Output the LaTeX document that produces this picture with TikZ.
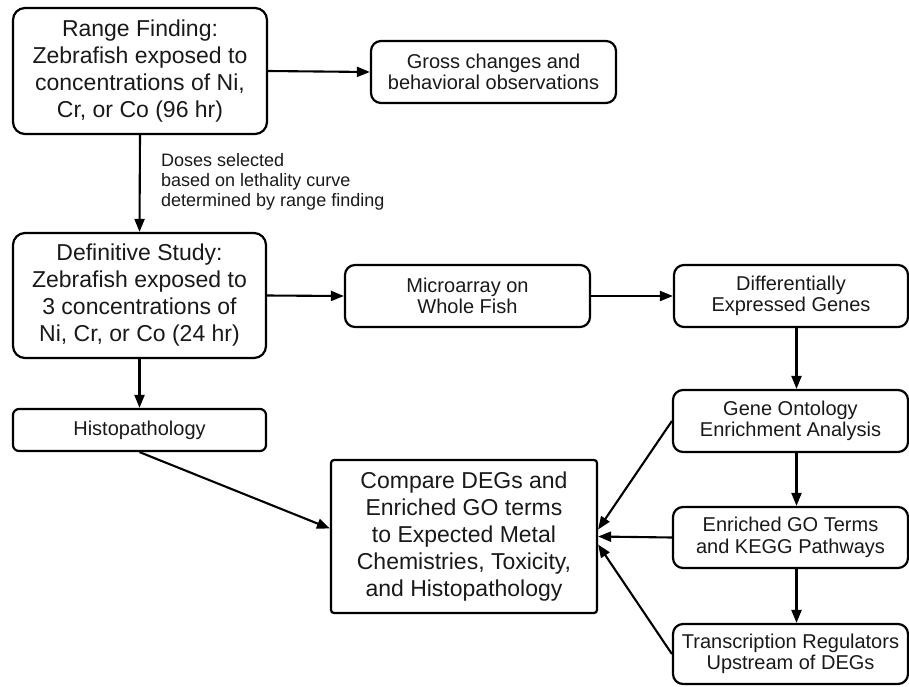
\documentclass[tikz,border=0pt]{standalone}
\usepackage{fontspec}
\setmainfont{Liberation Sans}
\usetikzlibrary{arrows.meta}
\begin{document}
\begin{tikzpicture}[x=1pt,y=-1pt,
  box/.style={draw, line width=2.2pt, rounded corners=12pt, align=center, inner sep=0pt, text=black!90},
  big/.style={box, font=\fontsize{23}{27}\selectfont},
  small/.style={box, rounded corners=10pt, font=\fontsize{20}{21.5}\selectfont},
  arr/.style={line width=2.1pt, -{Triangle[length=13pt,width=10pt]}},
  ]
\useasboundingbox (0,0) rectangle (909,686);
% left column
\node[big, minimum width=254pt, minimum height=126pt] (range) at (140,71)
  {Range Finding:\\Zebrafish exposed to\\concentrations of Ni,\\Cr, or Co (96 hr)};
\node[small, minimum width=245pt, minimum height=62pt] (gross) at (493.5,72)
  {Gross changes and\\behavioral observations};
\node[big, minimum width=253pt, minimum height=125pt] (defin) at (139.5,295.5)
  {Definitive Study:\\Zebrafish exposed to\\3 concentrations of\\Ni, Cr, or Co (24 hr)};
\node[small, minimum width=245pt, minimum height=62pt] (micro) at (467.5,296)
  {Microarray on\\Whole Fish};
\node[small, minimum width=234pt, minimum height=62pt] (deg) at (791,296)
  {Differentially\\Expressed Genes};
\node[small, rounded corners=6pt, minimum width=253pt, minimum height=42pt] (histo) at (139.5,430)
  {Histopathology};
\node[big, rounded corners=3pt, minimum width=266pt, minimum height=153pt] (comp) at (464,536.5)
  {Compare DEGs and\\Enriched GO terms\\to Expected Metal\\Chemistries, Toxicity,\\and Histopathology};
\node[small, minimum width=235pt, minimum height=62pt] (go) at (790.5,421)
  {Gene Ontology\\Enrichment Analysis};
\node[small, minimum width=235pt, minimum height=61pt] (enr) at (790.5,537.5)
  {Enriched GO Terms\\and KEGG Pathways};
\node[small, minimum width=235pt, minimum height=60pt] (tr) at (790.5,654)
  {Transcription Regulators\\Upstream of DEGs};
% label
\node[anchor=west, align=left, inner sep=0pt, font=\fontsize{18}{20}\selectfont, text=black!90] (doses) at (161,182)
  {Doses selected\\based on lethality curve\\determined by range finding};
% connectors
\draw[arr] (range.east) -- (gross.west);
\draw[arr] (range.south) -- (defin.north);
\draw[arr] (defin.east) -- (micro.west);
\draw[arr] (micro.east) -- (deg.west);
\draw[arr] (defin.south) -- (histo.north);
\draw[arr] ([xshift=5.5pt]deg.south) -- ([xshift=6pt]go.north);
\draw[arr] ([xshift=6pt]go.south) -- ([xshift=6pt]enr.north);
\draw[arr] ([xshift=6pt]enr.south) -- ([xshift=6pt]tr.north);
\draw[arr] (histo.south) -- ([yshift=8pt]comp.west);
\draw[arr] (go.west) -- ([yshift=7pt]comp.east);
\draw[arr] (enr.west) -- (comp.east);
\draw[arr] (tr.west) -- ([yshift=-8pt]comp.east);
\end{tikzpicture}
\end{document}
